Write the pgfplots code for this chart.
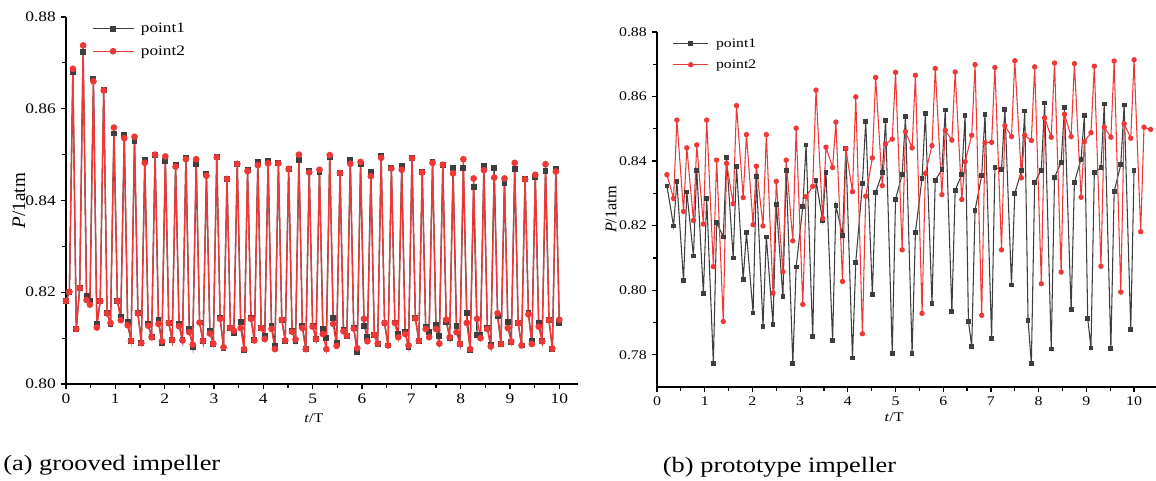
\documentclass[border=0pt]{standalone}
\usepackage{fontspec}
\setmainfont{Liberation Serif}[FakeStretch=1.2]
\newfontfamily\plainserif{Liberation Serif}
\usepackage{pgfplots}
\pgfplotsset{compat=1.18}
\usepackage{pgfplotstable}
\definecolor{pone}{RGB}{62,62,62}
\definecolor{ptwo}{RGB}{238,56,56}

\pgfplotstableread{
t p1 p2
0.000 0.8181 0.8181
0.069 0.8201 0.8201
0.139 0.8680 0.8687
0.208 0.8120 0.8120
0.278 0.8209 0.8209
0.347 0.8723 0.8738
0.417 0.8192 0.8183
0.486 0.8181 0.8173
0.556 0.8665 0.8660
0.625 0.8132 0.8123
0.694 0.8181 0.8181
0.764 0.8640 0.8640
0.833 0.8155 0.8154
0.903 0.8130 0.8133
0.972 0.8546 0.8559
1.042 0.8181 0.8181
1.111 0.8147 0.8139
1.181 0.8542 0.8536
1.250 0.8136 0.8128
1.319 0.8093 0.8094
1.389 0.8530 0.8539
1.458 0.8154 0.8154
1.528 0.8090 0.8089
1.597 0.8489 0.8482
1.667 0.8132 0.8127
1.736 0.8102 0.8102
1.806 0.8500 0.8500
1.875 0.8140 0.8131
1.944 0.8089 0.8093
2.014 0.8487 0.8496
2.083 0.8133 0.8133
2.153 0.8095 0.8096
2.222 0.8478 0.8474
2.292 0.8132 0.8126
2.361 0.8095 0.8095
2.431 0.8493 0.8490
2.500 0.8121 0.8113
2.569 0.8081 0.8086
2.639 0.8480 0.8490
2.708 0.8134 0.8134
2.778 0.8093 0.8094
2.847 0.8458 0.8454
2.917 0.8116 0.8110
2.986 0.8088 0.8088
3.056 0.8494 0.8494
3.125 0.8144 0.8142
3.194 0.8078 0.8080
3.264 0.8447 0.8447
3.333 0.8123 0.8122
3.403 0.8110 0.8116
3.472 0.8480 0.8480
3.542 0.8136 0.8122
3.611 0.8075 0.8076
3.681 0.8466 0.8464
3.750 0.8144 0.8142
3.819 0.8095 0.8095
3.889 0.8485 0.8477
3.958 0.8122 0.8122
4.028 0.8104 0.8098
4.097 0.8486 0.8481
4.167 0.8127 0.8120
4.236 0.8084 0.8076
4.306 0.8481 0.8481
4.375 0.8140 0.8140
4.444 0.8093 0.8095
4.514 0.8469 0.8469
4.583 0.8116 0.8114
4.653 0.8093 0.8097
4.722 0.8488 0.8500
4.792 0.8127 0.8122
4.861 0.8076 0.8076
4.931 0.8464 0.8461
5.000 0.8127 0.8125
5.069 0.8098 0.8098
5.139 0.8462 0.8467
5.208 0.8120 0.8109
5.278 0.8100 0.8076
5.347 0.8494 0.8499
5.417 0.8144 0.8131
5.486 0.8089 0.8083
5.556 0.8460 0.8460
5.625 0.8117 0.8115
5.694 0.8105 0.8105
5.764 0.8488 0.8480
5.833 0.8123 0.8121
5.903 0.8069 0.8078
5.972 0.8479 0.8484
6.042 0.8127 0.8142
6.111 0.8103 0.8093
6.181 0.8463 0.8453
6.250 0.8107 0.8107
6.319 0.8088 0.8088
6.389 0.8497 0.8493
6.458 0.8133 0.8133
6.528 0.8084 0.8084
6.597 0.8470 0.8470
6.667 0.8134 0.8133
6.736 0.8109 0.8102
6.806 0.8476 0.8467
6.875 0.8113 0.8109
6.944 0.8080 0.8084
7.014 0.8492 0.8492
7.083 0.8143 0.8143
7.153 0.8094 0.8094
7.222 0.8462 0.8461
7.292 0.8124 0.8120
7.361 0.8113 0.8102
7.431 0.8485 0.8482
7.500 0.8129 0.8120
7.569 0.8105 0.8088
7.639 0.8477 0.8478
7.708 0.8136 0.8140
7.778 0.8101 0.8102
7.847 0.8470 0.8459
7.917 0.8127 0.8113
7.986 0.8087 0.8087
8.056 0.8471 0.8490
8.125 0.8154 0.8133
8.194 0.8074 0.8076
8.264 0.8429 0.8448
8.333 0.8107 0.8142
8.403 0.8107 0.8100
8.472 0.8475 0.8466
8.542 0.8123 0.8120
8.611 0.8085 0.8082
8.681 0.8471 0.8450
8.750 0.8147 0.8154
8.819 0.8088 0.8087
8.889 0.8439 0.8448
8.958 0.8136 0.8122
9.028 0.8092 0.8092
9.097 0.8469 0.8482
9.167 0.8133 0.8133
9.236 0.8084 0.8084
9.306 0.8447 0.8446
9.375 0.8154 0.8152
9.444 0.8093 0.8087
9.514 0.8450 0.8456
9.583 0.8133 0.8125
9.653 0.8093 0.8093
9.722 0.8464 0.8479
9.792 0.8139 0.8139
9.861 0.8077 0.8077
9.931 0.8469 0.8463
10.000 0.8133 0.8140
}\grooved

\pgfplotstableread{
t p
0.208 0.8323
0.347 0.8199
0.417 0.8336
0.556 0.8030
0.625 0.8304
0.764 0.8106
0.833 0.8372
0.972 0.7990
1.042 0.8284
1.181 0.7773
1.250 0.8210
1.389 0.8165
1.458 0.8411
1.597 0.8100
1.667 0.8382
1.806 0.8034
1.875 0.8178
2.014 0.7929
2.083 0.8353
2.222 0.7888
2.292 0.8165
2.431 0.7894
2.500 0.8266
2.639 0.7980
2.708 0.8372
2.847 0.7773
2.917 0.8072
3.056 0.8259
3.125 0.8450
3.264 0.7856
3.333 0.8341
3.472 0.8215
3.542 0.8365
3.681 0.7843
3.750 0.8262
3.889 0.8170
3.958 0.8438
4.097 0.7790
4.167 0.8087
4.306 0.8330
4.375 0.8523
4.514 0.7987
4.583 0.8302
4.722 0.8364
4.792 0.8525
4.931 0.7805
5.000 0.8282
5.139 0.8358
5.208 0.8538
5.347 0.7805
5.417 0.8179
5.556 0.8347
5.625 0.8547
5.764 0.7959
5.833 0.8341
5.972 0.8373
6.042 0.8558
6.181 0.7934
6.250 0.8309
6.389 0.8359
6.458 0.8541
6.528 0.7903
6.597 0.7826
6.667 0.8248
6.806 0.8355
6.875 0.8545
7.014 0.7850
7.083 0.8380
7.222 0.8375
7.292 0.8561
7.431 0.8016
7.500 0.8300
7.639 0.8370
7.708 0.8555
7.778 0.7907
7.847 0.7772
7.917 0.8334
8.056 0.8372
8.125 0.8580
8.264 0.7818
8.333 0.8350
8.472 0.8396
8.542 0.8565
8.681 0.7939
8.750 0.8334
8.889 0.8406
8.958 0.8541
9.028 0.7913
9.097 0.7821
9.167 0.8365
9.306 0.8379
9.375 0.8577
9.514 0.7819
9.583 0.8306
9.722 0.8389
9.792 0.8574
9.931 0.7879
10.000 0.8372
}\protoA

\pgfplotstableread{
t p
0.208 0.8358
0.347 0.8284
0.417 0.8527
0.556 0.8244
0.625 0.8441
0.764 0.8216
0.833 0.8450
0.972 0.8205
1.042 0.8527
1.181 0.8073
1.250 0.8403
1.389 0.7903
1.458 0.8393
1.597 0.8268
1.667 0.8572
1.806 0.8287
1.875 0.8482
2.014 0.8203
2.083 0.8384
2.222 0.8199
2.292 0.8482
2.431 0.7991
2.500 0.8337
2.639 0.8057
2.708 0.8403
2.847 0.8153
2.917 0.8502
3.056 0.7956
3.125 0.8290
3.264 0.8322
3.333 0.8620
3.472 0.8222
3.542 0.8443
3.681 0.8380
3.750 0.8521
3.889 0.8027
3.958 0.8439
4.097 0.8305
4.167 0.8599
4.306 0.7865
4.375 0.8291
4.514 0.8410
4.583 0.8659
4.722 0.8324
4.792 0.8453
4.931 0.8468
5.000 0.8675
5.139 0.8125
5.208 0.8491
5.347 0.8441
5.417 0.8666
5.556 0.7928
5.625 0.8362
5.764 0.8448
5.833 0.8687
5.972 0.8296
6.042 0.8495
6.181 0.8465
6.250 0.8676
6.389 0.8281
6.458 0.8398
6.597 0.8480
6.667 0.8699
6.806 0.7922
6.875 0.8457
7.014 0.8458
7.083 0.8690
7.222 0.8125
7.292 0.8510
7.431 0.8476
7.500 0.8711
7.639 0.8348
7.708 0.8480
7.847 0.8464
7.917 0.8692
8.056 0.8020
8.125 0.8534
8.264 0.8474
8.333 0.8704
8.472 0.8056
8.542 0.8545
8.681 0.8476
8.750 0.8702
8.889 0.8288
8.958 0.8460
9.097 0.8488
9.167 0.8694
9.306 0.8074
9.375 0.8505
9.514 0.8474
9.583 0.8710
9.722 0.7994
9.792 0.8516
9.931 0.8471
10.000 0.8714
10.139 0.8181
10.208 0.8505
10.347 0.8498
}\protoB

\pgfplotsset{
  base/.style={
    scale only axis, clip=false,
    axis x line=bottom, axis y line=left,
    every non boxed x axis/.append style={x axis line style=-},
    every non boxed y axis/.append style={y axis line style=-},
    axis line style={line width=1pt, black, -},
    xtick align=outside, ytick align=outside,
    major tick length=4.1pt, minor tick length=3pt,
    every tick/.style={black, line width=0.9pt},
    xtick={0,1,...,10}, minor x tick num=1, minor y tick num=1,
    /pgf/number format/assume math mode=true,
    yticklabel style={/pgf/number format/.cd, fixed, fixed zerofill, precision=2},
    xticklabel style={/pgf/number format/.cd, fixed, precision=0},
    legend cell align=left,
  },
  legL/.style={legend image code/.code={\draw[mark repeat=2,mark phase=2,##1] plot coordinates {(0pt,0pt) (15.4pt,0pt) (30.75pt,0pt)};}},
  legR/.style={legend image code/.code={\draw[mark repeat=2,mark phase=2,##1] plot coordinates {(0pt,0pt) (13.1pt,0pt) (26.25pt,0pt)};}},
}

\begin{document}
\begin{tikzpicture}[x=1pt,y=1pt]
\path[use as bounding box] (0,0) rectangle (867,360.75);

\begin{axis}[base,
  at={(49.5pt,72.75pt)}, anchor=south west,
  width=384pt, height=275.25pt,
  xmin=0, xmax=10.38, ymin=0.80, ymax=0.88,
  ytick={0.80,0.82,0.84,0.86,0.88},
  tick label style={font=\fontsize{10.9}{12}\selectfont},
  xlabel={\textit{t}/T}, ylabel={\textit{P}/1atm},
  xlabel style={font=\fontsize{10}{12}\selectfont, at={(axis description cs:0.484,-0.093)}, anchor=center},
  ylabel style={font=\plainserif\fontsize{14.3}{16}\selectfont, at={(axis description cs:-0.092,0.5)}, anchor=center},
  legend style={at={(axis description cs:0.05,0.992)}, anchor=north west, draw=none, fill=none, inner sep=0pt,
    font=\fontsize{10.8}{12}\selectfont, row sep=4.3pt, nodes={inner sep=2pt},
    /tikz/every odd column/.append style={column sep=3pt}},
]
\addplot[legL, pone, line width=1pt, mark=square*, mark size=1.7pt, mark options={solid}] table[x=t,y=p1]{\grooved};
\addlegendentry{point1}
\addplot[legL, ptwo, line width=1pt, mark=*, mark size=2pt, mark options={solid}] table[x=t,y=p2]{\grooved};
\addlegendentry{point2}
\end{axis}

\begin{axis}[base,
  at={(492.75pt,70.5pt)}, anchor=south west,
  width=374.25pt, height=266.25pt,
  xmin=0, xmax=10.46, ymin=0.77, ymax=0.88,
  ytick={0.78,0.80,0.82,0.84,0.86,0.88},
  tick label style={font=\fontsize{9.9}{11}\selectfont},
  xlabel={\textit{t}/T}, ylabel={\textit{P}/1atm},
  xlabel style={font=\fontsize{10}{12}\selectfont, at={(axis description cs:0.475,-0.085)}, anchor=center},
  ylabel style={font=\plainserif\fontsize{12.2}{14}\selectfont, at={(axis description cs:-0.092,0.5)}, anchor=center},
  legend style={at={(axis description cs:0.031,0.99)}, anchor=north west, draw=none, fill=none, inner sep=0pt,
    font=\fontsize{9.8}{11}\selectfont, row sep=3.75pt, nodes={inner sep=2pt},
    /tikz/every odd column/.append style={column sep=3.5pt}},
]
\addplot[legR, pone, line width=0.8pt, mark=square*, mark size=1.4pt, mark options={solid}] table[x=t,y=p]{\protoA};
\addlegendentry{point1}
\addplot[legR, ptwo, line width=0.8pt, mark=*, mark size=1.6pt, mark options={solid}] table[x=t,y=p]{\protoB};
\addlegendentry{point2}
\end{axis}

\node[anchor=base west, inner sep=0pt, font=\fontsize{16.5}{18}\selectfont] at (2.25,7.5) {(a) grooved impeller};
\node[anchor=base west, inner sep=0pt, font=\fontsize{16.5}{18}\selectfont] at (497,6.2) {(b) prototype impeller};
\end{tikzpicture}
\end{document}
